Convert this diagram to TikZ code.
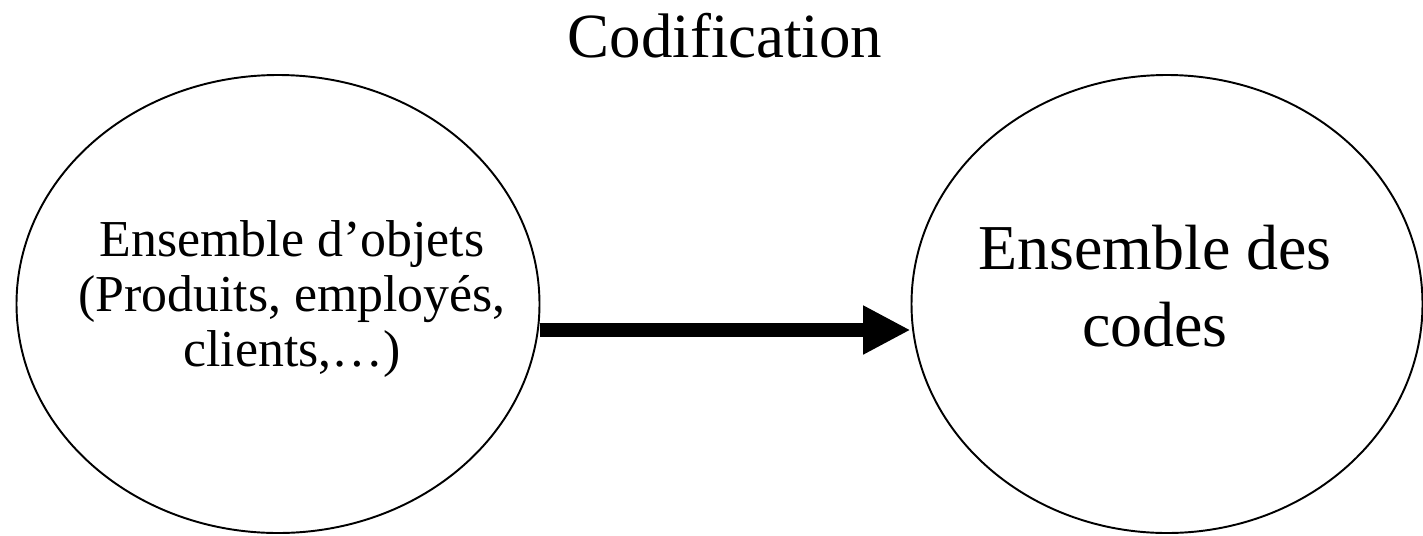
\documentclass[tikz,border=0pt]{standalone}
\usepackage{fontspec}
\setmainfont{Liberation Serif}
\usepackage{tikz}
\usetikzlibrary{shapes.geometric,arrows.meta,positioning}

\tikzset{
  ensemble/.style={draw,ellipse,line width=1.1pt,inner sep=0pt},
  fleche/.style={line width=8.5pt,-{Triangle[length=27pt,width=26pt]}}
}

\begin{document}
\begin{tikzpicture}
    \useasboundingbox (0,0) rectangle (28.46,-10.7);
    \node[ensemble,minimum width=10.46cm,minimum height=9.16cm] (objets) at (5.56,-6.08) {};
    \node[ensemble,minimum width=10.22cm,minimum height=9.16cm] (codes) at (23.34,-6.08) {};

    \node[align=center,font=\fontsize{29.5}{31.5}\selectfont] (objetsTxt) at (5.84,-5.98) {Ensemble d’objets\\(Produits, employés,\\clients,…)};
    \node[align=center,font=\fontsize{36.4}{44}\selectfont] (codesTxt) at (23.1,-5.72) {Ensemble des\\codes};
    \node[anchor=base,font=\fontsize{35.8}{40}\selectfont] (titre) at (14.5,-1.14) {Codification};

    \draw[fleche] ([yshift=-0.52cm]objets.east) -- ([yshift=-0.52cm]codes.west);
\end{tikzpicture}
\end{document}
